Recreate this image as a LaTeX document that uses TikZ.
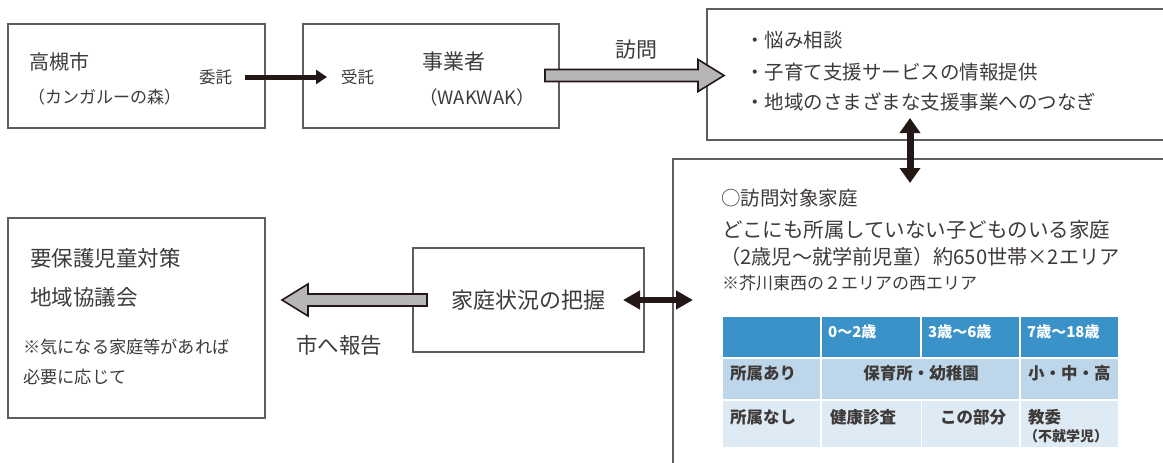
\documentclass[tikz,border=0pt]{standalone}
\usepackage{fontspec}
\setmainfont{Noto Sans CJK JP}
\usetikzlibrary{arrows.meta,calc}

\definecolor{boxgrey}{RGB}{95,93,93}
\definecolor{inkblack}{RGB}{35,24,21}
\definecolor{txtgrey}{RGB}{62,58,57}
\definecolor{arrowgrey}{RGB}{182,182,182}
\definecolor{headblue}{RGB}{58,146,201}
\definecolor{rowblue}{RGB}{190,214,234}
\definecolor{rowpale}{RGB}{222,234,244}

\newcommand{\fsz}[1]{\fontsize{#1}{#1}\selectfont}

% grey block arrow with black outline, drawn between two points
\tikzset{
  fatarrow/.style={draw=inkblack, fill=arrowgrey, line width=1.6pt, line join=miter,
    to path={let \p1=(\tikztostart), \p2=(\tikztotarget),
      \n1={(\x2-\x1)/abs(\x2-\x1)} in
      (\x1,{\y1+6pt}) -- ({\x2-\n1*26pt},{\y1+6pt}) -- ({\x2-\n1*26pt},{\y1+16pt})
      -- (\x2,\y2) -- ({\x2-\n1*26pt},{\y1-16pt}) -- ({\x2-\n1*26pt},{\y1-6pt})
      -- (\x1,{\y1-6pt}) -- cycle}},
}

\begin{document}
\begin{tikzpicture}[x=1pt, y=-1pt]
    \tikzstyle{box}=[draw=boxgrey, line width=1.5pt, rectangle, inner sep=0pt]
    \tikzstyle{txt}=[anchor=west, inner sep=0pt, text=txtgrey]
    \tikzstyle{thinarrow}=[draw=inkblack, line width=5pt, -{Triangle[length=11pt,width=14pt]}]
    \tikzstyle{twoway}=[draw=inkblack, line width=7pt,
        {Triangle[length=15pt,width=20pt]}-{Triangle[length=15pt,width=20pt]}]
    \tikzstyle{cell}=[white, line width=2pt]

    \useasboundingbox (0, 0) rectangle (1163, 463);
    \clip (0, 0) rectangle (1163, 463);

    % boxes
    \node (city) at (136.5, 76) [box, minimum width=257pt, minimum height=104pt] {};
    \node (firm) at (431, 76) [box, minimum width=256pt, minimum height=104pt] {};
    \node (support) at (941, 74.5) [box, minimum width=468pt, minimum height=131pt] {};
    \node (target) at (926.5, 319.5) [box, minimum width=507pt, minimum height=321pt] {};
    \node (grasp) at (528.5, 300) [box, minimum width=231pt, minimum height=104pt] {};
    \node (council) at (136.5, 318) [box, minimum width=257pt, minimum height=200pt] {};

    % texts in the top row
    \node (city-1) at (29, 62) [txt, font=\fsz{20}] {高槻市};
    \node (city-2) at (28, 97) [txt, font=\fsz{17}] {（カンガルーの森）};
    \node (itaku) at (199, 77) [txt, font=\fsz{16.5}] {委託};
    \node (jutaku) at (341, 77) [txt, font=\fsz{16.5}] {受託};
    \node (firm-1) at (422, 62) [txt, font=\fsz{21}] {事業者};
    \node (firm-2) at (419, 97) [txt, font=\fsz{18.5}] {（WAKWAK）};
    \node (visit) at (615, 50) [txt, font=\fsz{21}] {訪問};

    \node (sup-1) at (745, 40) [txt, font=\fsz{19.5}] {・悩み相談};
    \node (sup-2) at (745, 72) [txt, font=\fsz{19.5}] {・子育て支援サービスの情報提供};
    \node (sup-3) at (745, 102) [txt, font=\fsz{19.5}] {・地域のさまざまな支援事業へのつなぎ};

    % target families
    \node (tg-1) at (721, 198) [txt, font=\fsz{19.5}] {○訪問対象家庭};
    \node (tg-2) at (722, 230) [txt, font=\fsz{20.5}] {どこにも所属していない子どものいる家庭};
    \node (tg-3) at (720, 257) [txt, font=\fsz{20.2}] {（2歳児～就学前児童）約650世帯×2エリア};
    \node (tg-4) at (722, 283) [txt, font=\fsz{17}] {※芥川東西の２エリアの西エリア};

    % lower left
    \node (grasp-t) at (451, 300) [txt, font=\fsz{22}] {家庭状況の把握};
    \node (report) at (296, 345) [txt, font=\fsz{21.5}] {市へ報告};
    \node (cn-1) at (30, 258) [txt, font=\fsz{21.5}] {要保護児童対策};
    \node (cn-2) at (30, 297) [txt, font=\fsz{21.5}] {地域協議会};
    \node (cn-3) at (23, 347) [txt, font=\fsz{17.2}] {※気になる家庭等があれば};
    \node (cn-4) at (23, 377) [txt, font=\fsz{17.2}] {必要に応じて};

    % table
    \fill [headblue] (723, 317) rectangle (1118, 357);
    \fill [rowblue] (723, 357) rectangle (1118, 399);
    \fill [rowpale] (723, 399) rectangle (1118, 447);
    \draw [cell] (723, 358) -- (1118, 358);
    \draw [cell] (723, 400) -- (1118, 400);
    \draw [cell] (821, 317) -- (821, 447);
    \draw [cell] (1020, 317) -- (1020, 447);
    \draw [cell] (921, 317) -- (921, 357);
    \draw [white, line width=1pt] (921, 400) -- (921, 447);

    \node (h-1) at (828, 332) [txt, text=white, font=\bfseries\fsz{15}] {0～2歳};
    \node (h-2) at (928, 332) [txt, text=white, font=\bfseries\fsz{15}] {3歳～6歳};
    \node (h-3) at (1027, 332) [txt, text=white, font=\bfseries\fsz{15}] {7歳～18歳};
    \node (r1-0) at (730, 373) [txt, font=\bfseries\fsz{16.5}] {所属あり};
    \node (r1-1) at (921, 373) [inner sep=0pt, text=txtgrey, font=\bfseries\fsz{16.5}] {保育所・幼稚園};
    \node (r1-3) at (1028, 373) [txt, font=\bfseries\fsz{16.5}] {小・中・高};
    \node (r2-0) at (730, 417) [txt, font=\bfseries\fsz{16.5}] {所属なし};
    \node (r2-1) at (830, 417) [txt, font=\bfseries\fsz{16.5}] {健康診査};
    \node (r2-2) at (940, 417) [txt, font=\bfseries\fsz{16.5}] {この部分};
    \node (r2-3) at (1028, 417) [txt, font=\bfseries\fsz{16.5}] {教委};
    \node (r2-4) at (1024, 436) [txt, font=\bfseries\fsz{14}] {（不就学児）};

    % arrow ends
    \coordinate (itaku-s) at (245, 77);
    \coordinate (itaku-e) at (327, 77);
    \coordinate (visit-s) at (545, 75.5);
    \coordinate (visit-e) at (724, 75.5);
    \coordinate (link-n) at (910, 118);
    \coordinate (link-s) at (910, 183);
    \coordinate (grasp-w) at (623, 300);
    \coordinate (grasp-e) at (693, 300);
    \coordinate (report-s) at (427, 300);
    \coordinate (report-e) at (282, 300);

    \draw [thinarrow] (itaku-s) to (itaku-e);
    \path [fatarrow] (visit-s) to (visit-e);
    \draw [twoway] (link-n) to (link-s);
    \draw [draw=inkblack, line width=6pt,
        {Triangle[length=17pt,width=18pt]}-{Triangle[length=17pt,width=18pt]}]
        (grasp-w) to (grasp-e);
    \path [fatarrow] (report-s) to (report-e);

\end{tikzpicture}
\end{document}
